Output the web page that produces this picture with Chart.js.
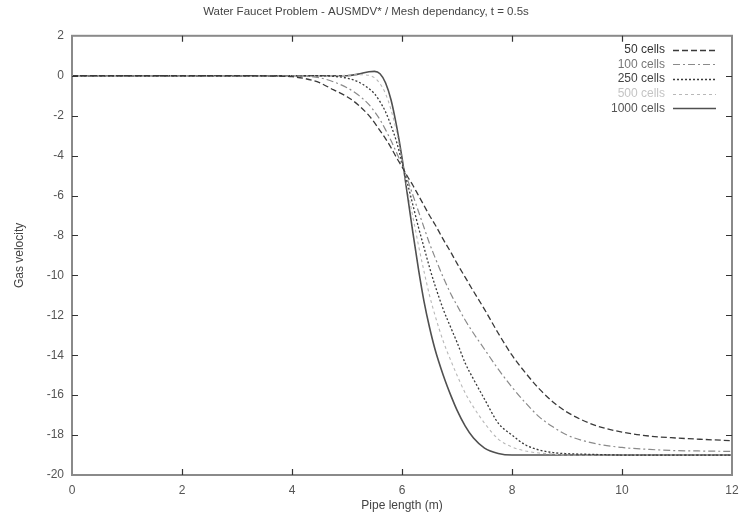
<!DOCTYPE html>
<html>
<head>
<meta charset="utf-8">
<script src="https://cdn.jsdelivr.net/npm/chart.js@4/dist/chart.umd.min.js"></script>
<style>
  html, body { margin: 0; padding: 0; background: #fff; }
  #wrap { width: 741px; height: 521px; position: relative; }
</style>
</head>
<body>
<div id="wrap"><canvas id="c" width="741" height="521"></canvas></div>
<script>
// ---- data ----
const chartTitle = 'Water Faucet Problem - AUSMDV* / Mesh dependancy, t = 0.5s';
const xLabel = 'Pipe length (m)';
const yLabel = 'Gas velocity';
const seriesNames = ['50 cells', '100 cells', '250 cells', '500 cells', '1000 cells'];
const xTicks = [0, 2, 4, 6, 8, 10, 12];
const yTicks = [2, 0, -2, -4, -6, -8, -10, -12, -14, -16, -18, -20];

const pipeX = [0, 1, 2, 3, 3.5, 4, 4.25, 4.5, 4.75, 5, 5.2, 5.4, 5.5, 5.6, 5.7, 5.8, 5.9, 6.0, 6.1, 6.2, 6.3, 6.4, 6.5, 6.6, 6.75, 6.9, 7.0, 7.15, 7.3, 7.5, 7.75, 8.0, 8.25, 8.5, 8.75, 9, 9.5, 10, 10.5, 11, 11.5, 12];

const cells50 = [0, 0, 0, 0, -0.01, -0.05, -0.15, -0.35, -0.7, -1.05, -1.45, -2.0, -2.35, -2.75, -3.15, -3.6, -4.1, -4.56, -5.05, -5.5, -6.0, -6.5, -7.0, -7.45, -8.2, -8.9, -9.4, -10.1, -10.8, -11.7, -12.9, -14.0, -14.9, -15.7, -16.35, -16.85, -17.5, -17.85, -18.05, -18.15, -18.22, -18.28];
const cells100 = [0, 0, 0, 0, 0, 0, -0.02, -0.1, -0.3, -0.6, -0.95, -1.45, -1.8, -2.2, -2.7, -3.25, -3.85, -4.45, -5.2, -6.0, -6.8, -7.6, -8.4, -9.1, -10.1, -11.0, -11.5, -12.25, -12.9, -13.7, -14.7, -15.6, -16.4, -17.1, -17.6, -18.0, -18.42, -18.62, -18.72, -18.78, -18.8, -18.82];
const cells250 = [0, 0, 0, 0, 0, 0, 0, 0, -0.03, -0.12, -0.3, -0.65, -0.9, -1.3, -1.8, -2.5, -3.3, -4.35, -5.4, -6.5, -7.6, -8.6, -9.6, -10.5, -11.7, -12.7, -13.35, -14.4, -15.2, -16.2, -17.4, -18.0, -18.5, -18.75, -18.88, -18.93, -18.97, -19.0, -19.0, -19.0, -19.0, -19.0];
const cells500 = [0, 0, 0, 0, 0, 0, 0, 0, 0, 0.02, 0.05, 0.02, -0.1, -0.4, -0.9, -1.7, -2.8, -4.25, -5.7, -7.1, -8.5, -9.8, -11.0, -12.0, -13.3, -14.35, -15.0, -15.9, -16.6, -17.4, -18.2, -18.6, -18.8, -18.9, -18.95, -19.0, -19.0, -19.0, -19.0, -19.0, -19.0, -19.0];
const cells1000 = [0, 0, 0, 0, 0, 0, 0, 0, 0, 0, 0.08, 0.2, 0.22, 0.1, -0.35, -1.2, -2.5, -4.1, -6.0, -7.9, -9.7, -11.3, -12.6, -13.7, -15.0, -16.1, -16.75, -17.55, -18.15, -18.65, -18.92, -19.0, -19.0, -19.0, -19.0, -19.0, -19.0, -19.0, -19.0, -19.0, -19.0, -19.0];

const seriesValues = [cells50, cells100, cells250, cells500, cells1000];

// ---- styles ----
const lineStyles = [
  { color: '#3a3a3a', dash: [6, 3], width: 1.3, text: '#333' },
  { color: '#8a8a8a', dash: [7, 3, 2, 3], width: 1.2, text: '#777' },
  { color: '#3a3a3a', dash: [2, 2], width: 1.3, text: '#444' },
  { color: '#b8b8b8', dash: [3, 3], width: 1.1, text: '#c4c4c4' },
  { color: '#505050', dash: [], width: 1.6, text: '#555' }
];

const datasets = seriesNames.map((name, i) => ({
  label: name,
  data: pipeX.map((x, k) => ({ x: x, y: seriesValues[i][k] })),
  borderColor: lineStyles[i].color,
  borderDash: lineStyles[i].dash,
  borderWidth: lineStyles[i].width,
  pointRadius: 0,
  fill: false,
  cubicInterpolationMode: 'monotone',
  textColor: lineStyles[i].text
}));

const fontFamily = '"Liberation Sans", Arial, sans-serif';

const framePlugin = {
  id: 'frame',
  afterDatasetsDraw(chart) {
    const ctx = chart.ctx;
    const a = chart.chartArea;
    const xs = chart.scales.x, ys = chart.scales.y;
    ctx.save();
    ctx.strokeStyle = '#8a8a8a';
    ctx.lineWidth = 2;
    ctx.setLineDash([]);
    ctx.strokeRect(a.left, a.top, a.right - a.left, a.bottom - a.top);
    ctx.strokeStyle = '#333';
    ctx.lineWidth = 1.2;
    const tl = 6;
    ctx.beginPath();
    xs.ticks.forEach(t => {
      const px = Math.round(xs.getPixelForValue(t.value)) + 0.5;
      if (px <= a.left + 1 || px >= a.right - 1) return;
      ctx.moveTo(px, a.bottom); ctx.lineTo(px, a.bottom - tl);
      ctx.moveTo(px, a.top); ctx.lineTo(px, a.top + tl);
    });
    ys.ticks.forEach(t => {
      const py = Math.round(ys.getPixelForValue(t.value)) + 0.5;
      if (py <= a.top + 1 || py >= a.bottom - 1) return;
      ctx.moveTo(a.left, py); ctx.lineTo(a.left + tl, py);
      ctx.moveTo(a.right, py); ctx.lineTo(a.right - tl, py);
    });
    ctx.stroke();
    ctx.restore();
  },
  afterDraw(chart) {
    // legend in the gnuplot style: text right-aligned, line sample on the right
    const ctx = chart.ctx;
    const a = chart.chartArea;
    const textRight = a.right - 67;
    const lineStart = a.right - 59;
    const lineEnd = a.right - 16;
    ctx.save();
    ctx.font = '12px ' + fontFamily;
    ctx.textAlign = 'right';
    ctx.textBaseline = 'middle';
    chart.data.datasets.forEach((ds, i) => {
      const y = a.top + 14 + i * 14.6;
      ctx.fillStyle = ds.textColor;
      ctx.fillText(ds.label, textRight, y);
      ctx.strokeStyle = ds.borderColor;
      ctx.lineWidth = ds.borderWidth;
      ctx.setLineDash(ds.borderDash);
      ctx.beginPath();
      ctx.moveTo(lineStart, Math.round(y) + 0.5);
      ctx.lineTo(lineEnd, Math.round(y) + 0.5);
      ctx.stroke();
    });
    ctx.restore();
  }
};

new Chart(document.getElementById('c'), {
  type: 'line',
  data: { datasets: datasets },
  options: {
    responsive: false,
    animation: false,
    devicePixelRatio: 1,
    layout: { padding: { left: 0, right: 9, top: 0, bottom: 0 } },
    plugins: {
      legend: { display: false },
      tooltip: { enabled: false },
      title: {
        display: true,
        text: chartTitle,
        color: '#444',
        font: { family: fontFamily, size: 11.5, weight: 'normal' },
        padding: { top: 5, bottom: 17 }
      }
    },
    scales: {
      x: {
        type: 'linear',
        min: 0, max: 12,
        afterBuildTicks(scale) { scale.ticks = xTicks.map(v => ({ value: v })); },
        afterFit(scale) { scale.height = 46; scale.paddingLeft = 0; scale.paddingRight = 0; },
        grid: { display: false, drawTicks: false },
        border: { display: false },
        ticks: { color: '#555', padding: 8, maxRotation: 0, font: { family: fontFamily, size: 12 } },
        title: { display: true, text: xLabel, color: '#444', font: { family: fontFamily, size: 12 }, padding: { top: 0, bottom: 8 } }
      },
      y: {
        type: 'linear',
        min: -20, max: 2,
        afterBuildTicks(scale) { scale.ticks = yTicks.map(v => ({ value: v })); },
        afterFit(scale) { scale.width = 72; scale.paddingTop = 0; scale.paddingBottom = 0; },
        grid: { display: false, drawTicks: false },
        border: { display: false },
        ticks: { color: '#555', padding: 8, font: { family: fontFamily, size: 12 } },
        title: { display: true, text: yLabel, color: '#444', font: { family: fontFamily, size: 12 }, padding: { top: 12, bottom: 0 } }
      }
    }
  },
  plugins: [framePlugin]
});
</script>
</body>
</html>
